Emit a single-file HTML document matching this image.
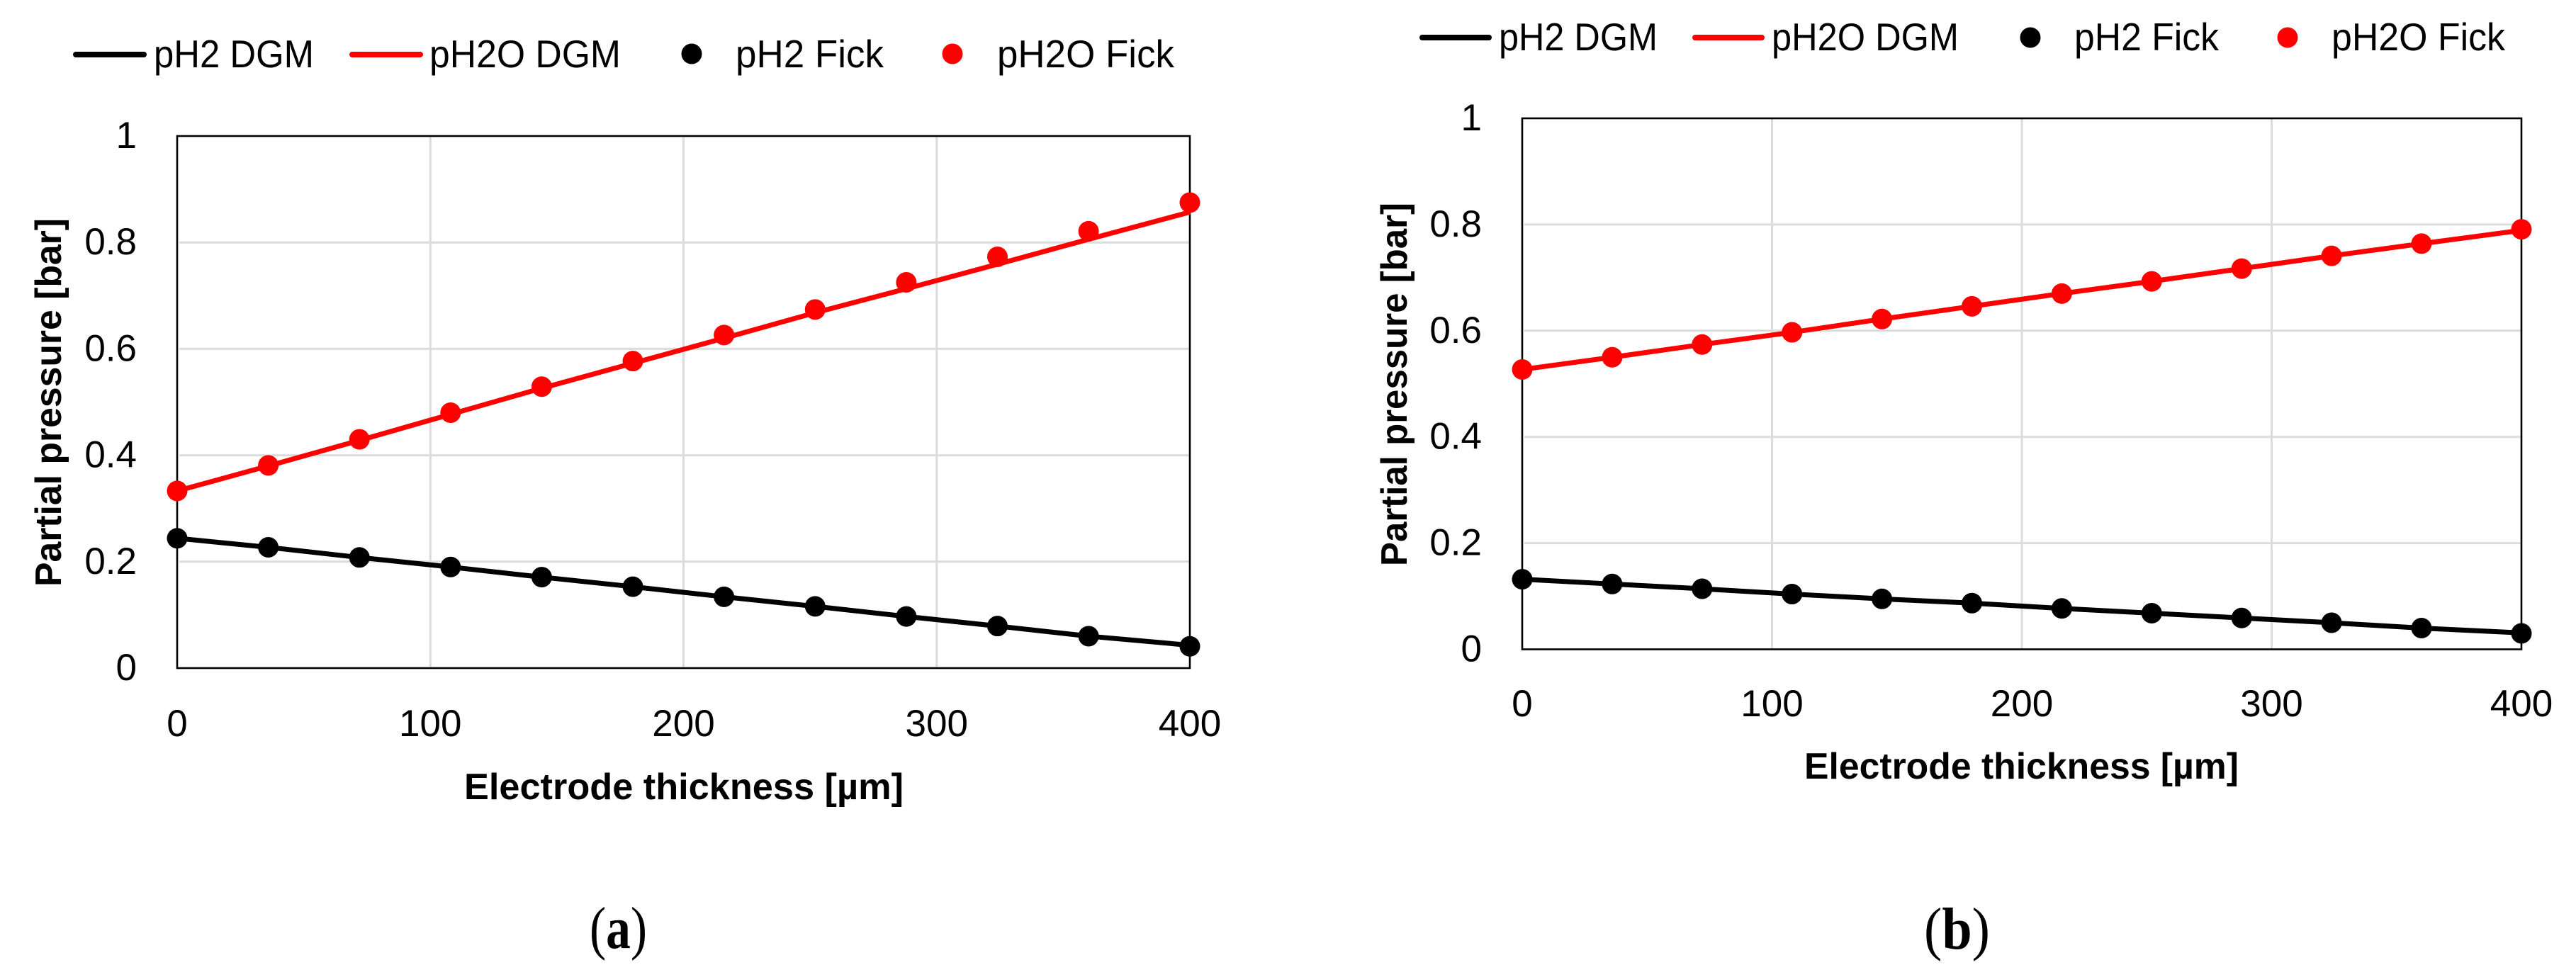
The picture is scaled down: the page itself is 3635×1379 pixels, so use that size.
<!DOCTYPE html>
<html lang="en">
<head>
<meta charset="utf-8">
<title>Partial pressure vs electrode thickness</title>
<style>
html,body{margin:0;padding:0;background:#fff;width:3635px;height:1379px;overflow:hidden}
svg{display:block}
text{font-family:"Liberation Sans",sans-serif;fill:#000}
.leg{font-size:55px}
.title{font-size:52px;font-weight:bold}
.tick{font-size:53px}
.cap{font-family:"Liberation Serif",serif;font-size:84px}
</style>
</head>
<body>
<svg id="figure" xmlns="http://www.w3.org/2000/svg" width="3635" height="1379" viewBox="0 0 3635 1379">
  <rect x="0" y="0" width="3635" height="1379" fill="#fff"/>

  <g id="panel-a"></g>
  <g id="panel-b"></g>

  <g>
    <g>
      <line x1="107" y1="77" x2="203" y2="77" stroke="#000" stroke-width="8" stroke-linecap="round"/>
      <text class="leg" x="217" y="95" textLength="226" lengthAdjust="spacingAndGlyphs">pH2 DGM</text>
    </g>
    <g>
      <line x1="497" y1="77" x2="593" y2="77" stroke="#f00" stroke-width="8" stroke-linecap="round"/>
      <text class="leg" x="606" y="95" textLength="270" lengthAdjust="spacingAndGlyphs">pH2O DGM</text>
    </g>
    <g>
      <circle cx="976" cy="76" r="14.5" fill="#000"/>
      <text class="leg" x="1038" y="95" textLength="209" lengthAdjust="spacingAndGlyphs">pH2 Fick</text>
    </g>
    <g>
      <circle cx="1344" cy="76" r="14.5" fill="#f00"/>
      <text class="leg" x="1407" y="95" textLength="250" lengthAdjust="spacingAndGlyphs">pH2O Fick</text>
    </g>
  </g>

  <g>
    <g>
      <line x1="2007" y1="53" x2="2101" y2="53" stroke="#000" stroke-width="8" stroke-linecap="round"/>
      <text class="leg" x="2115" y="71" textLength="224" lengthAdjust="spacingAndGlyphs">pH2 DGM</text>
    </g>
    <g>
      <line x1="2392" y1="53" x2="2486" y2="53" stroke="#f00" stroke-width="8" stroke-linecap="round"/>
      <text class="leg" x="2500" y="71" textLength="264" lengthAdjust="spacingAndGlyphs">pH2O DGM</text>
    </g>
    <g>
      <circle cx="2865" cy="53" r="14.5" fill="#000"/>
      <text class="leg" x="2927" y="71" textLength="204" lengthAdjust="spacingAndGlyphs">pH2 Fick</text>
    </g>
    <g>
      <circle cx="3228" cy="53" r="14.5" fill="#f00"/>
      <text class="leg" x="3290" y="71" textLength="245" lengthAdjust="spacingAndGlyphs">pH2O Fick</text>
    </g>
  </g>

  <text class="title" transform="translate(86 828) rotate(-90)" x="0" y="0" textLength="520" lengthAdjust="spacingAndGlyphs">Partial pressure [bar]</text>
  <text class="title" x="655" y="1128" textLength="620" lengthAdjust="spacingAndGlyphs">Electrode thickness [µm]</text>
  <text class="title" transform="translate(1985 799) rotate(-90)" x="0" y="0" textLength="513" lengthAdjust="spacingAndGlyphs">Partial pressure [bar]</text>
  <text class="title" x="2546" y="1099" textLength="613" lengthAdjust="spacingAndGlyphs">Electrode thickness [µm]</text>

  <text class="cap" x="832" y="1338" textLength="81" lengthAdjust="spacingAndGlyphs">(<tspan font-weight="bold">a</tspan>)</text>
  <text class="cap" x="2715" y="1339" textLength="93" lengthAdjust="spacingAndGlyphs">(<tspan font-weight="bold">b</tspan>)</text>
</svg>

<script>
const thicknessUm = [0, 36, 72, 108, 144, 180, 216, 252, 288, 324, 360, 400];
const xTickValues = [0, 100, 200, 300, 400];
const xTickLabels = ['0', '100', '200', '300', '400'];
const yTickValues = [0, 0.2, 0.4, 0.6, 0.8, 1];
const yTickLabels = ['0', '0.2', '0.4', '0.6', '0.8', '1'];

const panelA_pH2Dgm = [0.244, 0.227, 0.208, 0.190, 0.171, 0.153, 0.134, 0.116, 0.097, 0.079, 0.060, 0.043];
const panelA_pH2ODgm = [0.333, 0.380, 0.428, 0.477, 0.526, 0.573, 0.620, 0.668, 0.713, 0.759, 0.806, 0.857];
const panelA_pH2Fick = [0.244, 0.227, 0.208, 0.190, 0.171, 0.153, 0.134, 0.116, 0.097, 0.079, 0.060, 0.041];
const panelA_pH2OFick = [0.333, 0.381, 0.430, 0.480, 0.529, 0.577, 0.626, 0.674, 0.725, 0.773, 0.821, 0.875];

const panelB_pH2Dgm = [0.132, 0.123, 0.114, 0.104, 0.095, 0.087, 0.077, 0.068, 0.059, 0.050, 0.040, 0.031];
const panelB_pH2ODgm = [0.527, 0.550, 0.574, 0.597, 0.622, 0.646, 0.670, 0.693, 0.717, 0.741, 0.764, 0.789];
const panelB_pH2Fick = [0.132, 0.123, 0.114, 0.104, 0.095, 0.087, 0.077, 0.068, 0.059, 0.050, 0.040, 0.030];
const panelB_pH2OFick = [0.527, 0.550, 0.574, 0.597, 0.622, 0.646, 0.670, 0.693, 0.717, 0.741, 0.764, 0.791];

const SVG_NS = 'http://www.w3.org/2000/svg';

function make(parent, tag, props) {
  const el = document.createElementNS(SVG_NS, tag);
  Object.keys(props).forEach(function (k) { el.setAttribute(k, props[k]); });
  parent.appendChild(el);
  return el;
}

function drawPanel(rootId, suffix, frame, series) {
  const root = document.getElementById(rootId);
  const xScale = function (v) { return frame.left + (v / 400) * (frame.right - frame.left); };
  const yScale = function (v) { return frame.bottom - v * (frame.bottom - frame.top); };

  const grid = make(root, 'g', {});
  
  
  yTickValues.forEach(function (v) {
    if (v === 0 || v === 1) return;
    const l = make(grid, 'line', { x1: frame.left + 3, x2: frame.right - 1, y1: yScale(v), y2: yScale(v), stroke: '#dcdcdc', 'stroke-width': 3 });
    
    
  });
  xTickValues.forEach(function (v) {
    if (v === 0 || v === 400) return;
    const l = make(grid, 'line', { x1: xScale(v), x2: xScale(v), y1: frame.top, y2: frame.bottom, stroke: '#dcdcdc', 'stroke-width': 3 });
    
    
  });

  const border = make(root, 'rect', { x: frame.left, y: frame.top, width: frame.right - frame.left, height: frame.bottom - frame.top, fill: 'none', stroke: '#000', 'stroke-width': 2.6 });
  
  

  const yLabels = make(root, 'g', {});
  
  
  yTickValues.forEach(function (v, i) {
    const t = make(yLabels, 'text', { x: frame.yLabelX, y: yScale(v) + 17, 'text-anchor': 'end', class: 'tick' });
    
    
    t.textContent = yTickLabels[i];
  });

  const xLabels = make(root, 'g', {});
  
  
  xTickValues.forEach(function (v, i) {
    const t = make(xLabels, 'text', { x: xScale(v), y: frame.xLabelY, 'text-anchor': 'middle', class: 'tick' });
    
    
    t.textContent = xTickLabels[i];
  });

  series.forEach(function (s) {
    const pts = thicknessUm.map(function (x, i) { return xScale(x) + ',' + yScale(s.dgm[i]); }).join(' ');
    const line = make(root, 'polyline', { points: pts, fill: 'none', stroke: s.color, 'stroke-width': 7, 'stroke-linejoin': 'round' });
    
    
  });

  series.forEach(function (s) {
    const g = make(root, 'g', {});
    
    
    thicknessUm.forEach(function (x, i) {
      const c = make(g, 'circle', { cx: xScale(x), cy: yScale(s.fick[i]), r: 14.5, fill: s.color });
      
      
    });
  });
}

drawPanel('panel-a', 'a',
  { left: 250, right: 1679, top: 192, bottom: 943, yLabelX: 193, xLabelY: 1039 },
  [
    { key: 'ph2', color: '#000', dgm: panelA_pH2Dgm, fick: panelA_pH2Fick },
    { key: 'ph2o', color: '#f00', dgm: panelA_pH2ODgm, fick: panelA_pH2OFick }
  ]);

drawPanel('panel-b', 'b',
  { left: 2148, right: 3558, top: 167, bottom: 916.5, yLabelX: 2091, xLabelY: 1011 },
  [
    { key: 'ph2', color: '#000', dgm: panelB_pH2Dgm, fick: panelB_pH2Fick },
    { key: 'ph2o', color: '#f00', dgm: panelB_pH2ODgm, fick: panelB_pH2OFick }
  ]);
</script>
</body>
</html>
